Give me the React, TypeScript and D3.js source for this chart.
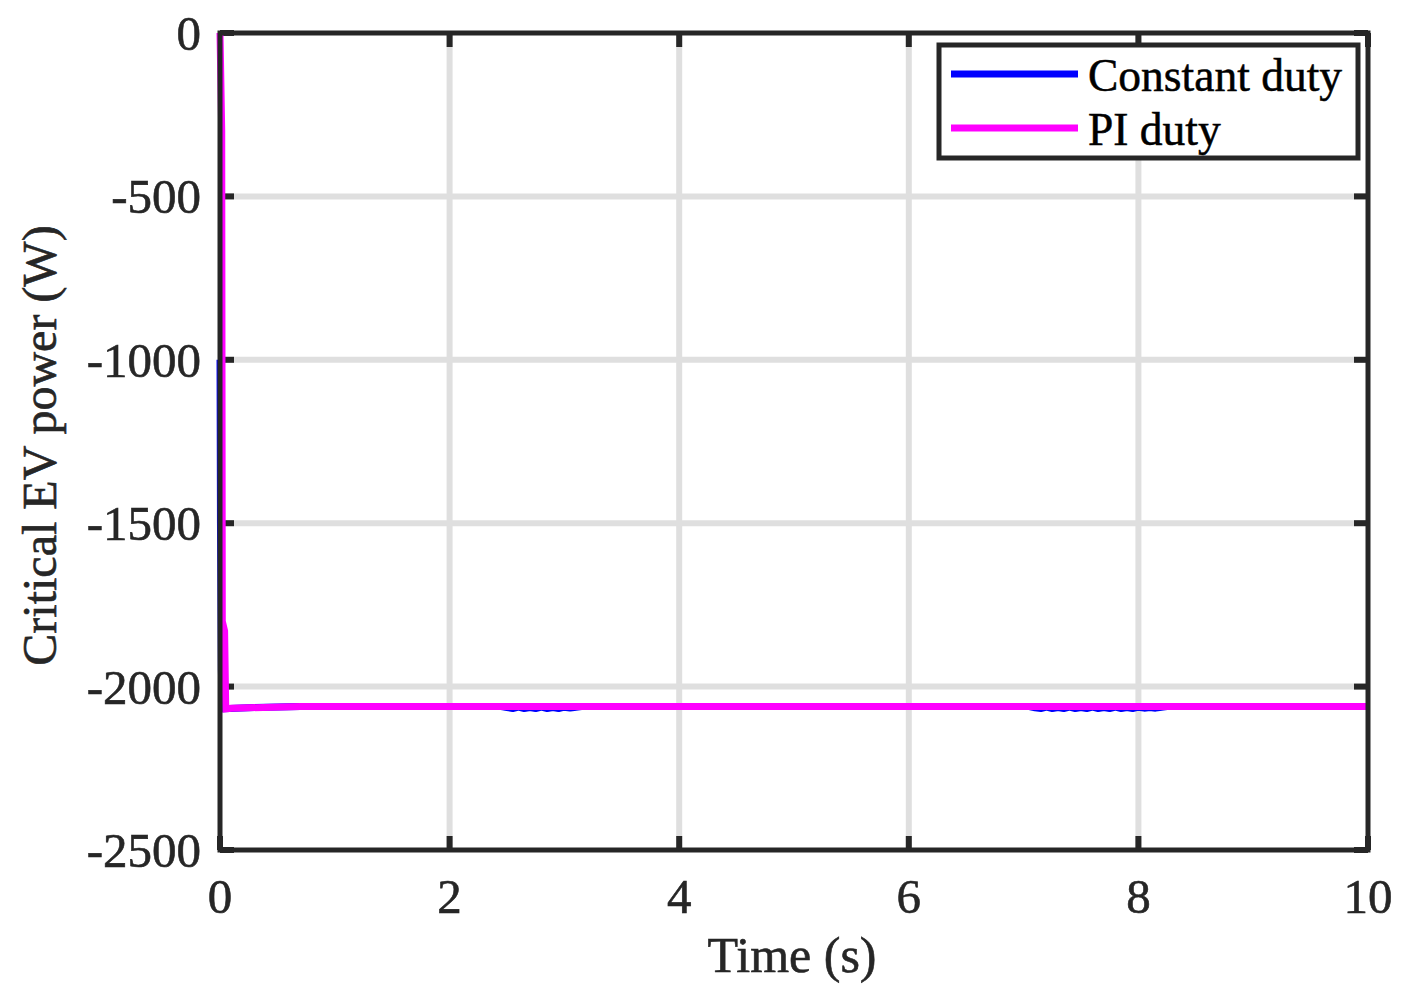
import React from "react";
import * as d3 from "d3";

const W = 1408;
const H = 996;

// Data
const xTicks = [0, 2, 4, 6, 8, 10];
const yTicks = [-2500, -2000, -1500, -1000, -500, 0];

const constTime = [0, 0.004, 0.012, 0.02, 0.03, 0.3, 0.7, 2.45, 2.5, 2.55, 2.6, 2.65, 2.7, 2.75, 2.8, 2.85, 2.9, 2.95, 3.0, 3.05, 3.1, 3.15, 7.05, 7.1, 7.15, 7.2, 7.25, 7.3, 7.35, 7.4, 7.45, 7.5, 7.55, 7.6, 7.65, 7.7, 7.75, 7.8, 7.85, 7.9, 7.95, 8.0, 8.05, 8.1, 8.15, 8.2, 8.25, 10];
const constPower = [-1000, -1500, -1950, -2068, -2068, -2064, -2061, -2061, -2064, -2067, -2063, -2067, -2064, -2067, -2063, -2067, -2064, -2067, -2063, -2066, -2063, -2061, -2061, -2065, -2067, -2063, -2067, -2064, -2067, -2063, -2067, -2064, -2067, -2063, -2067, -2064, -2067, -2063, -2067, -2064, -2067, -2063, -2066, -2064, -2066, -2063, -2061, -2061];

const piTime = [0, 0.015, 0.02, 0.04, 0.05, 0.1, 0.7, 10];
const piPower = [0, -300, -1800, -1830, -2068, -2066, -2061, -2061];

const legendItems = [
  { label: "Constant duty", color: "#0000ff" },
  { label: "PI duty", color: "#ff00ff" },
];

export default function App() {
  const x = d3.scaleLinear().domain([0, 10]).range([220, 1368]);
  const y = d3.scaleLinear().domain([-2500, 0]).range([850, 33]);
  const line = d3
    .line<[number, number]>()
    .x((d) => x(d[0]))
    .y((d) => y(d[1]));
  const constData = constTime.map((t, i) => [t, constPower[i]] as [number, number]);
  const piData = piTime.map((t, i) => [t, piPower[i]] as [number, number]);
  const font = "'Liberation Serif', 'Times New Roman', serif";
  const axisColor = "#262626";
  const [x0, x1] = x.range();
  const [y0, y1] = y.range();

  return (
    <svg
      width={W}
      height={H}
      style={{ position: "absolute", left: 0, top: 0, background: "#fff" }}
      fontFamily={font}
    >
      <rect x={0} y={0} width={W} height={H} fill="#fff" />
      {/* grid */}
      {xTicks.slice(1, -1).map((t) => (
        <line key={"gx" + t} x1={x(t)} x2={x(t)} y1={y1} y2={y0} stroke="#dfdfdf" strokeWidth={6} />
      ))}
      {yTicks.slice(1, -1).map((t) => (
        <line key={"gy" + t} x1={x0} x2={x1} y1={y(t)} y2={y(t)} stroke="#dfdfdf" strokeWidth={6} />
      ))}
      {/* ticks inward */}
      {xTicks.map((t) => (
        <g key={"tx" + t}>
          <line x1={x(t)} x2={x(t)} y1={y0} y2={y0 - 14} stroke={axisColor} strokeWidth={6} />
          <line x1={x(t)} x2={x(t)} y1={y1} y2={y1 + 14} stroke={axisColor} strokeWidth={6} />
        </g>
      ))}
      {yTicks.map((t) => (
        <g key={"ty" + t}>
          <line x1={x0} x2={x0 + 14} y1={y(t)} y2={y(t)} stroke={axisColor} strokeWidth={6} />
          <line x1={x1} x2={x1 - 14} y1={y(t)} y2={y(t)} stroke={axisColor} strokeWidth={6} />
        </g>
      ))}
      {/* data */}
      <path d={line(constData) || ""} fill="none" stroke="#0000ff" strokeWidth={7} strokeLinejoin="bevel" />
      <path d={line(piData) || ""} fill="none" stroke="#ff00ff" strokeWidth={7} strokeLinejoin="miter" />
      {/* axes box */}
      <rect x={x0} y={y1} width={x1 - x0} height={y0 - y1} fill="none" stroke={axisColor} strokeWidth={5} />
      {/* tick labels */}
      {xTicks.map((t) => (
        <text key={"lx" + t} x={x(t)} y={y0 + 63} textAnchor="middle" fontSize={49} fill={axisColor} stroke={axisColor} strokeWidth={0.6}>
          {t}
        </text>
      ))}
      {yTicks.map((t) => (
        <text key={"ly" + t} x={x0 - 19} y={y(t) + 17} textAnchor="end" fontSize={49} fill={axisColor} stroke={axisColor} strokeWidth={0.6}>
          {t}
        </text>
      ))}
      {/* axis titles */}
      <text x={(x0 + x1) / 2 - 2} y={972} textAnchor="middle" fontSize={50} fill={axisColor} stroke={axisColor} strokeWidth={0.6}>
        Time (s)
      </text>
      <text
        transform={`translate(56, ${(y0 + y1) / 2 + 4}) rotate(-90)`}
        textAnchor="middle"
        fontSize={48}
        fill={axisColor}
        stroke={axisColor}
        strokeWidth={0.6}
      >
        Critical EV power (W)
      </text>
      {/* legend */}
      <rect x={939} y={45} width={419} height={113} fill="#fff" stroke={axisColor} strokeWidth={5} />
      {legendItems.map((d, i) => (
        <g key={d.label}>
          <line x1={951} x2={1078} y1={74 + i * 54} y2={74 + i * 54} stroke={d.color} strokeWidth={7} />
          <text x={1088} y={91 + i * 54} fontSize={45.5} fill="#000" stroke="#000" strokeWidth={0.5}>
            {d.label}
          </text>
        </g>
      ))}
    </svg>
  );
}
